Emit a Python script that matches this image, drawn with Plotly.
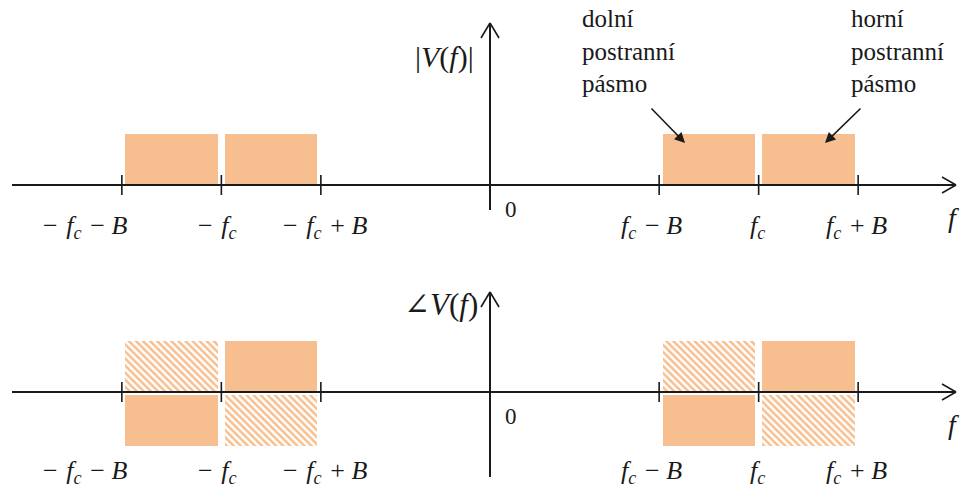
import plotly.graph_objects as go

# Band parameters (symbolic units): carrier frequency and message bandwidth
FC = 2.7
B = 1.0

SP = "\u2004"     # three-per-em space
SP2 = "\u2005"    # four-per-em space
FC_TXT = "<i>f</i><sub><i>c</i></sub>"
B_TXT = "<i>B</i>"

# Tick positions and their labels along the frequency axis
tick_pos = [-FC - B, -FC, -FC + B, FC - B, FC, FC + B]
tick_labels = [
    f"−{SP}{FC_TXT}{SP}−{SP2}{B_TXT}",
    f"−{SP}{FC_TXT}",
    f"−{SP}{FC_TXT}{SP}+{SP2}{B_TXT}",
    f"{FC_TXT}{SP}−{SP2}{B_TXT}",
    f"{FC_TXT}",
    f"{FC_TXT}{SP}+{SP2}{B_TXT}",
]

# Sideband centres: lower / upper sideband around -fc and +fc
band_centres = [-FC - B / 2, -FC + B / 2, FC - B / 2, FC + B / 2]
magnitude = [1, 1, 1, 1]
phase_solid = [-1, 1, -1, 1]
phase_hatched = [1, -1, 1, -1]

ORANGE = "#F7BF8F"
INK = "#1a1a1a"
FONT = "Times New Roman, Liberation Serif, DejaVu Serif, serif"

# Pixel geometry helpers (figure is 963 x 492, x origin at 490 px)
W, H = 963, 492
X0_PX, X_SCALE = 490, 99.5      # px per frequency unit
TOP_AXIS_PX, BOT_AXIS_PX, Y_SCALE = 185, 392, 51


def dx(px):
    return px / X_SCALE


def dy(px):
    return px / Y_SCALE


x_range = [(0 - X0_PX) / X_SCALE, (W - X0_PX) / X_SCALE]
y_range = [(TOP_AXIS_PX - H) / Y_SCALE, TOP_AXIS_PX / Y_SCALE]
y2_range = [(BOT_AXIS_PX - H) / Y_SCALE, BOT_AXIS_PX / Y_SCALE]

bar_w = B - dx(7)
neg_gap = dy(3)

fig = go.Figure()

# Magnitude spectrum |V(f)|
fig.add_trace(go.Bar(
    x=band_centres, y=magnitude, base=[0] * len(magnitude), width=[bar_w] * 4,
    marker=dict(color=ORANGE, line=dict(width=0)),
    xaxis="x", yaxis="y", hoverinfo="skip", showlegend=False,
))

# Phase spectrum: solid and hatched alternatives
fig.add_trace(go.Bar(
    x=band_centres, y=phase_solid,
    base=[0 if v > 0 else -neg_gap for v in phase_solid], width=[bar_w] * 4,
    marker=dict(color=ORANGE, line=dict(width=0)),
    xaxis="x", yaxis="y2", hoverinfo="skip", showlegend=False,
))
fig.add_trace(go.Bar(
    x=band_centres, y=phase_hatched,
    base=[0 if v > 0 else -neg_gap for v in phase_hatched], width=[bar_w] * 4,
    marker=dict(color="white", line=dict(width=0),
                pattern=dict(shape="\\", fgcolor=ORANGE, bgcolor="white",
                             size=5, solidity=0.5, fillmode="replace")),
    xaxis="x", yaxis="y2", hoverinfo="skip", showlegend=False,
))

shapes = []


def line(x0, y0, x1, y1, yref, width=2):
    shapes.append(dict(type="line", xref="x", yref=yref, x0=x0, y0=y0, x1=x1, y1=y1,
                       line=dict(color=INK, width=width), layer="above"))


axis_left, axis_tip = dx(12 - X0_PX), dx(956 - X0_PX)
for yref, v_top, v_bot in [("y", dy(162), -dy(25)), ("y2", dy(100), -dy(85))]:
    # frequency axis with open chevron head
    line(axis_left, 0, axis_tip, 0, yref)
    line(axis_tip - dx(14), dy(8), axis_tip, 0, yref, 1.6)
    line(axis_tip - dx(14), -dy(8), axis_tip, 0, yref, 1.6)
    # vertical axis with open chevron head
    line(0, v_bot, 0, v_top, yref)
    line(-dx(9), v_top - dy(15), 0, v_top, yref, 1.6)
    line(dx(9), v_top - dy(15), 0, v_top, yref, 1.6)
    # tick marks
    for t in tick_pos:
        line(t, -dy(10), t, dy(10), yref, 1.6)

annotations = []

# horizontal label offsets (px) relative to each tick
label_xshift = [-36, -4, 5, -8, -1, -2]
for yref, yshift in [("y", -42), ("y2", -80)]:
    for t, lab, xs in zip(tick_pos, tick_labels, label_xshift):
        annotations.append(dict(x=t, y=0, xref="x", yref=yref, text=lab, showarrow=False,
                                xanchor="center", yanchor="middle", xshift=xs, yshift=yshift,
                                font=dict(family=FONT, size=26, color=INK)))
    annotations.append(dict(x=0, y=0, xref="x", yref=yref, text="0", showarrow=False,
                            xanchor="center", yanchor="middle", xshift=21,
                            yshift=-24, font=dict(family=FONT, size=23, color=INK)))
    annotations.append(dict(x=axis_tip, y=0, xref="x", yref=yref, text="<i>f</i>",
                            showarrow=False, xanchor="left", yanchor="middle", xshift=-10,
                            yshift=-32, font=dict(family=FONT, size=28, color=INK)))

annotations.append(dict(x=0, y=dy(128), xref="x", yref="y", text="|<i>V</i>(<i>f</i>)|",
                        showarrow=False, xanchor="right", yanchor="middle", xshift=-14,
                        font=dict(family=FONT, size=30, color=INK)))
annotations.append(dict(x=0, y=dy(88), xref="x", yref="y2", text="∠<i>V</i>(<i>f</i>)",
                        showarrow=False, xanchor="right", yanchor="middle", xshift=-10,
                        font=dict(family=FONT, size=31, color=INK)))

# sideband callouts
for txt, x_left, tip_x, ax in [("dolní<br>postranní<br>pásmo", 580, 685, -35),
                               ("horní<br>postranní<br>pásmo", 849, 825, 37)]:
    annotations.append(dict(x=dx(x_left - X0_PX), y=dy(TOP_AXIS_PX - 3), xref="x", yref="y",
                            text=txt, showarrow=False, xanchor="left", yanchor="top",
                            align="left", font=dict(family=FONT, size=25, color=INK)))
    annotations.append(dict(x=dx(tip_x - X0_PX), y=dy(TOP_AXIS_PX - 143), xref="x", yref="y",
                            text="", showarrow=True, ax=ax, ay=-36, arrowhead=2,
                            arrowsize=1.3, arrowwidth=1.6, arrowcolor=INK))

fig.update_layout(
    width=W, height=H, margin=dict(l=0, r=0, t=0, b=0),
    paper_bgcolor="white", plot_bgcolor="white",
    font=dict(family=FONT, size=24, color=INK),
    barmode="overlay", bargap=0,
    xaxis=dict(range=x_range, visible=False, fixedrange=True),
    yaxis=dict(range=y_range, visible=False, fixedrange=True, domain=[0, 1]),
    yaxis2=dict(range=y2_range, visible=False, fixedrange=True, overlaying="y"),
    shapes=shapes, annotations=annotations,
)

fig.write_html("out.html")
